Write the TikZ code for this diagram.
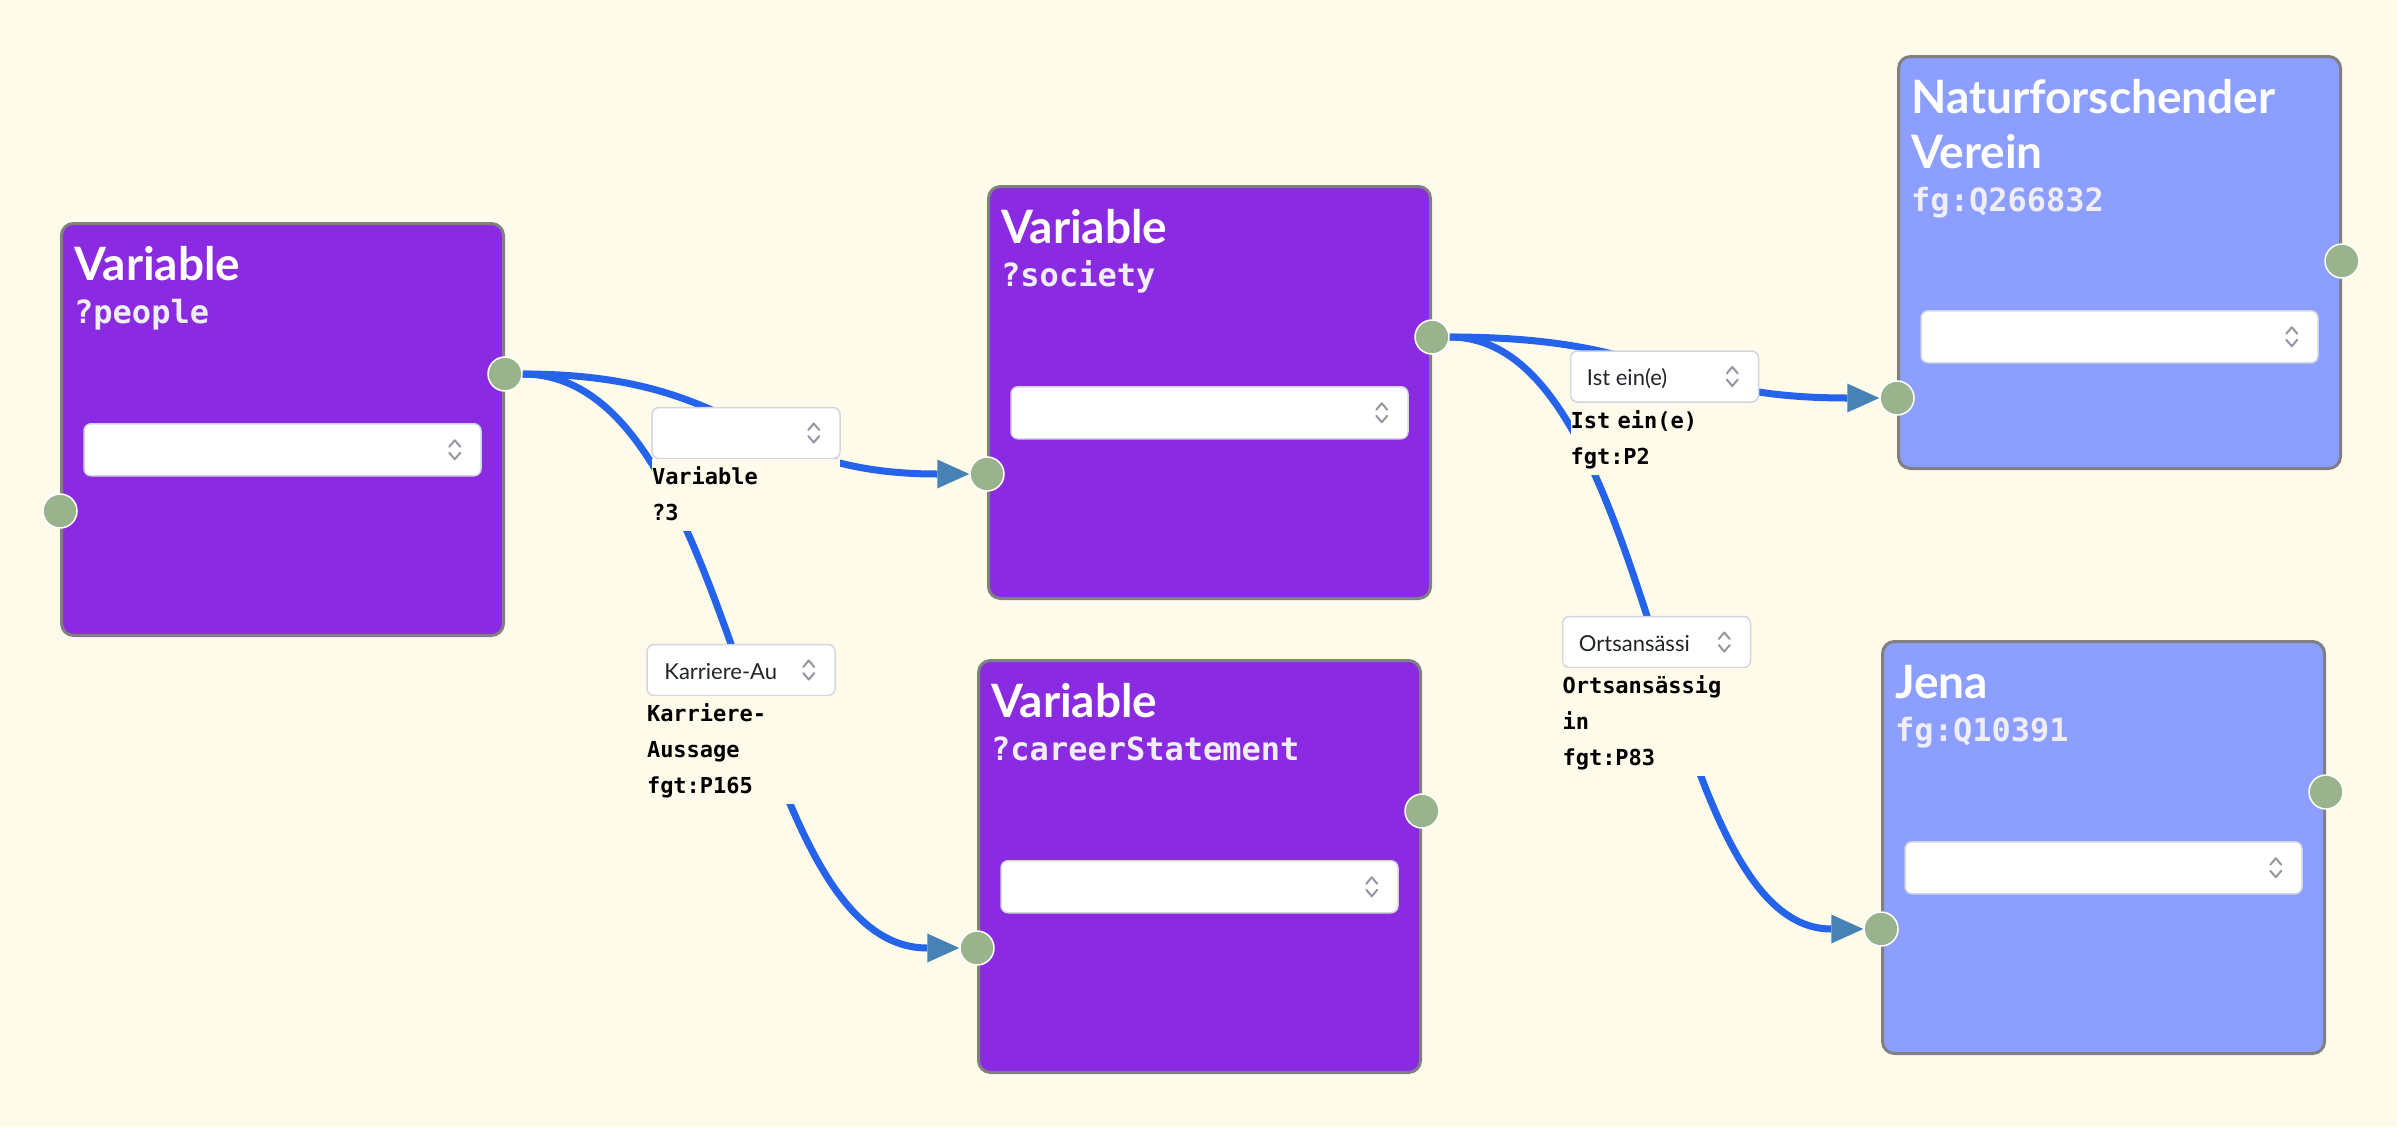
\documentclass[tikz,border=0pt]{standalone}
\usepackage{fontspec}
\setmainfont{Lato}
\setmonofont{DejaVu Sans Mono}
\usetikzlibrary{positioning, arrows.meta, calc}

\definecolor{canvas}{RGB}{255,251,235}
\definecolor{varpurple}{RGB}{138,43,226}
\definecolor{entblue}{RGB}{140,158,255}
\definecolor{boxgray}{RGB}{128,128,128}
\definecolor{portgreen}{RGB}{153,180,140}
\definecolor{edgeblue}{RGB}{37,99,235}
\definecolor{tipblue}{RGB}{70,130,180}
\definecolor{selborder}{RGB}{210,214,224}
\definecolor{chevgray}{RGB}{150,150,162}
\definecolor{selink}{RGB}{33,37,41}
\definecolor{subink}{RGB}{238,238,244}

\tikzstyle{varbox} = [rectangle, rounded corners=12pt,
minimum width=442pt,
minimum height=412pt,
anchor=north west, inner sep=0pt,
draw=boxgray, line width=3pt,
fill=varpurple]
\tikzstyle{entbox} = [varbox, fill=entblue]
\tikzstyle{port} = [circle, minimum size=34pt, inner sep=0pt,
fill=portgreen, draw=white, line width=1.5pt]
\tikzstyle{select} = [rectangle, rounded corners=7pt,
minimum width=397pt,
minimum height=52pt, inner sep=0pt,
fill=white, draw=selborder, line width=1.5pt]
\tikzstyle{edgeselect} = [select, minimum width=188pt, minimum height=51pt]
\tikzstyle{title} = [font=\fontsize{46}{55}\selectfont\bfseries,
text=white, anchor=base west, inner sep=0pt, align=left]
\tikzstyle{subtitle} = [font=\fontsize{32}{38}\selectfont\ttfamily\bfseries,
text=subink, anchor=base west, inner sep=0pt]
\tikzstyle{seltext} = [font=\fontsize{22}{26}\selectfont,
text=selink, anchor=base west, inner sep=0pt]
\tikzstyle{edgelabel} = [font=\fontsize{22}{36}\selectfont\ttfamily\bfseries,
text width=188pt, align=left, inner sep=0pt, fill=canvas]
\tikzstyle{chevron} = [chevgray, line width=2pt, line cap=round, line join=round]
\tikzstyle{arrow} = [line width=7pt, edgeblue,
-{Triangle[length=32pt, width=29pt, line width=0pt, color=tipblue]}]

\newcommand{\selchevron}[1]{%
\draw [chevron] ([xshift=-32.5pt]#1.east) ++(0,-3) -- ++(5.5,-6.5) -- ++(5.5,6.5);
\draw [chevron] ([xshift=-32.5pt]#1.east) ++(0,3) -- ++(5.5,6.5) -- ++(5.5,-6.5);}

\begin{document}
\begin{tikzpicture}[x=1pt, y=-1pt]

    \fill [canvas] (0,0) rectangle (2397,1127);
    \useasboundingbox (0,0) rectangle (2397,1127);

    \node (people) [varbox] at (60,222) {};
    \node (society) [varbox] at (987,185) {};
    \node (career) [varbox] at (977,659) {};
    \node (verein) [entbox] at (1897,55) {};
    \node (jena) [entbox] at (1881,640) {};

    \node (people-t) [title] at ([xshift=14pt, yshift=-58.5pt]people.north west) {Variable};
    \node (people-v) [subtitle] at ([xshift=14pt, yshift=-101.5pt]people.north west) {?people};
    \node (society-t) [title] at ([xshift=14pt, yshift=-58.5pt]society.north west) {Variable};
    \node (society-v) [subtitle] at ([xshift=14pt, yshift=-101.5pt]society.north west) {?society};
    \node (career-t) [title] at ([xshift=14pt, yshift=-58.5pt]career.north west) {Variable};
    \node (career-v) [subtitle] at ([xshift=14pt, yshift=-101.5pt]career.north west) {?careerStatement};
    \node (verein-t) [title] at ([xshift=14pt, yshift=-113.5pt]verein.north west) {Naturforschender\\Verein};
    \node (verein-v) [subtitle] at ([xshift=14pt, yshift=-156pt]verein.north west) {fg:Q266832};
    \node (jena-t) [title] at ([xshift=14pt, yshift=-58.5pt]jena.north west) {Jena};
    \node (jena-v) [subtitle] at ([xshift=14pt, yshift=-101.5pt]jena.north west) {fg:Q10391};

    \node (people-sel) [select, below=201pt of people.north] {};
    \node (society-sel) [select, below=201pt of society.north] {};
    \node (career-sel) [select, below=201pt of career.north] {};
    \node (verein-sel) [select, below=255pt of verein.north] {};
    \node (jena-sel) [select, below=201pt of jena.north] {};
    \selchevron{people-sel}
    \selchevron{society-sel}
    \selchevron{career-sel}
    \selchevron{verein-sel}
    \selchevron{jena-sel}

    \node (people-out) [port] at ([yshift=-152pt]people.north east) {};
    \node (people-in) [port] at ([yshift=-289pt]people.north west) {};
    \node (society-out) [port] at ([yshift=-152pt]society.north east) {};
    \node (society-in) [port] at ([yshift=-289pt]society.north west) {};
    \node (career-out) [port] at ([yshift=-152pt]career.north east) {};
    \node (career-in) [port] at ([yshift=-289pt]career.north west) {};
    \node (verein-out) [port] at ([yshift=-206pt]verein.north east) {};
    \node (verein-in) [port] at ([yshift=-343pt]verein.north west) {};
    \node (jena-out) [port] at ([yshift=-152pt]jena.north east) {};
    \node (jena-in) [port] at ([yshift=-289pt]jena.north west) {};

    \coordinate (m1) at ($(people-out)!0.5!(society-in)$);
    \coordinate (m2) at ($(people-out)!0.5!(career-in)$);
    \coordinate (m3) at ($(society-out)!0.5!(verein-in)$);
    \coordinate (m4) at ($(society-out)!0.5!(jena-in)$);

    \draw [arrow] (people-out) .. controls (m1 |- people-out) and (m1 |- society-in) .. (society-in);
    \draw [arrow] (people-out) .. controls (m2 |- people-out) and (m2 |- career-in) .. (career-in);
    \draw [arrow] (society-out) .. controls (m3 |- society-out) and (m3 |- verein-in) .. (verein-in);
    \draw [arrow] (society-out) .. controls (m4 |- society-out) and (m4 |- jena-in) .. (jena-in);

    \node (sel1) [edgeselect] at ([yshift=-9pt]m1) {};
    \node (sel2) [edgeselect] at ([yshift=-9pt]m2) {};
    \node (sel3) [edgeselect] at ([yshift=-9pt]m3) {};
    \node (sel4) [edgeselect] at ([yshift=-9pt]m4) {};
    \selchevron{sel1}
    \selchevron{sel2}
    \selchevron{sel3}
    \selchevron{sel4}
    \node (sel2-t) [seltext] at ([xshift=18pt, yshift=-9pt]sel2.west) {Karriere-Au};
    \node (sel3-t) [seltext] at ([xshift=17pt, yshift=-9pt]sel3.west) {Ist ein(e)};
    \node (sel4-t) [seltext] at ([xshift=17pt, yshift=-9pt]sel4.west) {Ortsansässi};

    \node (lbl1) [edgelabel, below=0pt of sel1] {\strut Variable\\?3\strut};
    \node (lbl2) [edgelabel, below=0pt of sel2] {\strut Karriere-\\Aussage\\fgt:P165\strut};
    \node (lbl3) [edgelabel, below=0pt of sel3] {\strut Ist ein(e)\\fgt:P2\strut};
    \node (lbl4) [edgelabel, below=0pt of sel4] {\strut Ortsansässig\\in\\fgt:P83\strut};

\end{tikzpicture}
\end{document}
